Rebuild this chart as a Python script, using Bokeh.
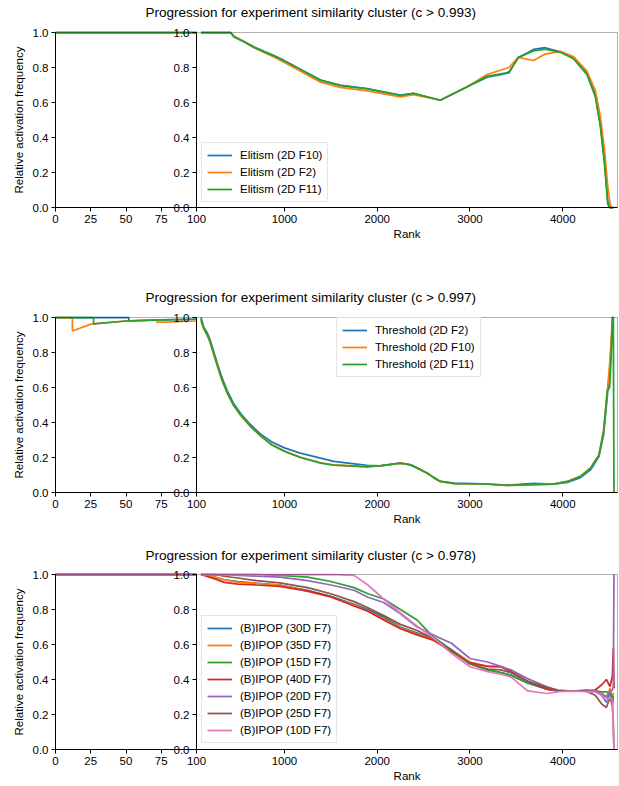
from bokeh.plotting import figure
from bokeh.models import (Range1d, LinearAxis, FixedTicker, PrintfTickFormatter, Legend, LegendItem,
                          BoxAnnotation, Label)
from bokeh.layouts import column
from bokeh.embed import file_html
from bokeh.resources import INLINE

# ---------------- data ----------------
TITLES = [
    "Progression for experiment similarity cluster (c > 0.993)",
    "Progression for experiment similarity cluster (c > 0.997)",
    "Progression for experiment similarity cluster (c > 0.978)",
]
Y_LABEL = "Relative activation frequency"
X_LABEL = "Rank"
Y_TICKS = [0.0, 0.2, 0.4, 0.6, 0.8, 1.0]
LEFT_X_TICKS = [0, 25, 50, 75, 100]
RIGHT_X_TICKS = [1000, 2000, 3000, 4000]

# Row 1: Elitism
R1_LABELS = ["Elitism (2D F10)", "Elitism (2D F2)", "Elitism (2D F11)"]
R1_LEFT_X = [0, 100]
R1_LEFT_Y = [1.0, 1.0]
R1_X = [100, 420, 455, 560, 670, 780, 880, 990, 1170, 1390, 1600, 1890, 2250, 2390, 2680, 2970, 3185,
        3360, 3420, 3520, 3685, 3810, 3975, 4115, 4260, 4350, 4405, 4450, 4485, 4505, 4520, 4545]
R1_F10 = [1.0, 1.0, 0.977, 0.95, 0.918, 0.892, 0.87, 0.842, 0.79, 0.728, 0.70, 0.68, 0.642, 0.652, 0.613, 0.69, 0.745,
          0.762, 0.775, 0.855, 0.903, 0.913, 0.89, 0.856, 0.767, 0.645, 0.474, 0.264, 0.034, 0.0, 0.0, 0.0]
R1_F2 = [1.0, 1.0, 0.98, 0.948, 0.915, 0.886, 0.862, 0.832, 0.78, 0.716, 0.686, 0.666, 0.632, 0.645, 0.613, 0.69, 0.76,
         0.79, 0.80, 0.858, 0.84, 0.877, 0.892, 0.862, 0.78, 0.67, 0.52, 0.33, 0.12, 0.04, 0.0, 0.0]
R1_F11 = [1.0, 1.0, 0.975, 0.948, 0.915, 0.89, 0.868, 0.84, 0.79, 0.726, 0.697, 0.678, 0.64, 0.652, 0.613, 0.69, 0.75,
          0.766, 0.768, 0.858, 0.895, 0.905, 0.887, 0.85, 0.76, 0.635, 0.465, 0.25, 0.02, 0.0, 0.0, 0.0]

# Row 2: Threshold
R2_LABELS = ["Threshold (2D F2)", "Threshold (2D F10)", "Threshold (2D F11)"]
R2_LEFT_X_F2 = [0, 52, 52, 75, 100]
R2_LEFT_Y_F2 = [1.0, 1.0, 0.981, 0.987, 0.99]
R2_LEFT_X_F10 = [0, 12, 12, 25, 50, 72, 72, 100]
R2_LEFT_Y_F10 = [1.0, 1.0, 0.923, 0.962, 0.98, 0.986, 0.972, 0.98]
R2_LEFT_X_F11 = [0, 27, 27, 50, 75, 100]
R2_LEFT_Y_F11 = [1.0, 1.0, 0.963, 0.98, 0.987, 0.99]
R2_X = [100, 130, 170, 200, 240, 275, 320, 380, 450, 530, 630, 740, 860, 1000, 1170, 1390, 1530, 1890, 2040, 2250,
        2360, 2450, 2540, 2610, 2680, 2830, 3150, 3400, 3690, 3900, 4050, 4190, 4300, 4390, 4440, 4480, 4505,
        4520, 4535, 4545, 4552]
R2_F2 = [1.0, 0.945, 0.91, 0.87, 0.80, 0.74, 0.665, 0.585, 0.51, 0.45, 0.39, 0.335, 0.29, 0.255, 0.225, 0.196,
         0.178, 0.155, 0.152, 0.168, 0.158, 0.135, 0.11, 0.085, 0.063, 0.053, 0.05, 0.042, 0.052, 0.048, 0.058,
         0.085, 0.13, 0.205, 0.33, 0.55, 0.70, 0.82, 0.95, 1.0, 1.0]
R2_F10 = [0.98, 0.935, 0.895, 0.855, 0.785, 0.725, 0.65, 0.57, 0.50, 0.44, 0.38, 0.325, 0.275, 0.237, 0.202, 0.17,
          0.158, 0.148, 0.153, 0.168, 0.158, 0.135, 0.11, 0.085, 0.063, 0.051, 0.049, 0.04, 0.045, 0.048, 0.063,
          0.092, 0.14, 0.215, 0.35, 0.58, 0.73, 0.85, 1.0, 1.0, 1.0]
R2_F11 = [0.99, 0.94, 0.90, 0.86, 0.79, 0.73, 0.655, 0.575, 0.50, 0.44, 0.38, 0.325, 0.273, 0.235, 0.2, 0.168,
          0.157, 0.147, 0.153, 0.168, 0.158, 0.135, 0.11, 0.085, 0.063, 0.051, 0.049, 0.04, 0.045, 0.048, 0.063,
          0.092, 0.14, 0.215, 0.35, 0.58, 0.60, 0.75, 1.0, 1.0, 0.0]

# Row 3: (B)IPOP
R3_LABELS = ["(B)IPOP (30D F7)", "(B)IPOP (35D F7)", "(B)IPOP (15D F7)", "(B)IPOP (40D F7)",
             "(B)IPOP (20D F7)", "(B)IPOP (25D F7)", "(B)IPOP (10D F7)"]
R3_LEFT_X = [0, 100]
R3_LEFT_Y = [1.0, 1.0]
R3_X = [100, 250, 350, 500, 700, 950, 1250, 1500, 1750, 1900, 2070, 2250, 2430, 2600, 2800, 3000,
        3190, 3330, 3440, 3620, 3830, 3950, 4100, 4250, 4350, 4420, 4470, 4510, 4535, 4545, 4552]
R3_30D = [1.0, 0.985, 0.97, 0.96, 0.95, 0.94, 0.91, 0.875, 0.83, 0.80, 0.755, 0.70, 0.665, 0.632, 0.565, 0.49,
          0.455, 0.44, 0.425, 0.38, 0.345, 0.335, 0.333, 0.333, 0.33, 0.31, 0.27, 0.33, 0.25, 0.30, 0.30]
R3_35D = [1.0, 0.985, 0.97, 0.955, 0.95, 0.94, 0.905, 0.87, 0.825, 0.79, 0.745, 0.695, 0.66, 0.63, 0.57, 0.50,
          0.475, 0.47, 0.45, 0.39, 0.345, 0.335, 0.333, 0.333, 0.335, 0.32, 0.30, 0.35, 0.30, 0.32, 0.32]
R3_15D = [1.0, 1.0, 1.0, 1.0, 1.0, 0.995, 0.985, 0.96, 0.925, 0.89, 0.86, 0.80, 0.74, 0.645, 0.57, 0.49,
          0.455, 0.44, 0.425, 0.38, 0.345, 0.335, 0.333, 0.34, 0.335, 0.33, 0.33, 0.32, 0.30, 0.30, 0.30]
R3_40D = [1.0, 0.975, 0.955, 0.945, 0.94, 0.932, 0.905, 0.873, 0.82, 0.79, 0.74, 0.69, 0.655, 0.625, 0.56, 0.495,
          0.475, 0.475, 0.445, 0.39, 0.345, 0.335, 0.333, 0.333, 0.34, 0.37, 0.40, 0.36, 0.42, 0.58, 0.35]
R3_20D = [1.0, 1.0, 1.0, 0.995, 0.99, 0.985, 0.965, 0.94, 0.91, 0.87, 0.84, 0.775, 0.70, 0.655, 0.607, 0.52,
          0.50, 0.475, 0.455, 0.405, 0.358, 0.335, 0.333, 0.333, 0.333, 0.32, 0.30, 0.33, 0.34, 0.36, 1.0]
R3_25D = [1.0, 1.0, 0.99, 0.98, 0.965, 0.952, 0.925, 0.89, 0.845, 0.81, 0.765, 0.715, 0.68, 0.635, 0.565, 0.49,
          0.46, 0.455, 0.44, 0.39, 0.355, 0.34, 0.333, 0.333, 0.31, 0.26, 0.24, 0.30, 0.25, 0.15, 0.0]
R3_10D = [1.0, 1.0, 1.0, 1.0, 1.0, 1.0, 1.0, 1.0, 0.995, 0.94, 0.86, 0.78, 0.705, 0.64, 0.55, 0.473,
          0.445, 0.43, 0.415, 0.335, 0.32, 0.33, 0.333, 0.33, 0.33, 0.31, 0.28, 0.30, 0.28, 0.10, 0.0]

COLORS = ["#1f77b4", "#ff7f0e", "#2ca02c", "#d62728", "#9467bd", "#8c564b", "#e377c2"]

# ---------------- layout constants (pixels) ----------------
FONT = "Liberation Sans"
TICK_FS = "11.5px"
W = 619
PANEL_L = 55          # left edge of the 0..100 panel
LEFT_W = 141          # width of the 0..100 panel
RIGHT_W = 421         # width of the rank panel
PANEL_H = 175
LEFT_MAX = 100
RIGHT_LO, RIGHT_HI = 52, 4590
LW = 1.75


def style_axis(ax):
    ax.major_label_text_font = FONT
    ax.major_label_text_font_size = TICK_FS
    ax.major_label_text_color = "black"
    ax.axis_line_color = "black"
    ax.major_tick_line_color = "black"
    ax.major_tick_out = 4
    ax.major_tick_in = 0
    ax.minor_tick_out = 0
    ax.minor_tick_in = 0
    ax.major_label_standoff = 3


def txt(**kw):
    return Label(text_font=FONT, text_color="black", **kw)


def make_row(title, left_series, right_series, labels, legend_loc, height, top, title_off):
    below = height - top - PANEL_H
    lscale = LEFT_MAX / LEFT_W
    rscale = (RIGHT_HI - RIGHT_LO) / RIGHT_W
    x_left = Range1d(-PANEL_L * lscale, (W - PANEL_L) * lscale)
    right_box_left = RIGHT_LO - LEFT_W * rscale
    x_right = Range1d(RIGHT_LO - (PANEL_L + LEFT_W) * rscale,
                      RIGHT_HI + (W - PANEL_L - LEFT_W - RIGHT_W) * rscale)
    y_rng = Range1d(-below / PANEL_H, 1 + top / PANEL_H)

    p = figure(width=W, height=height, output_backend="svg", toolbar_location=None,
               x_range=x_left, y_range=y_rng, x_axis_location=None, y_axis_location=None,
               min_border=0)
    p.extra_x_ranges = {"right": x_right}
    p.grid.visible = False
    p.outline_line_color = None
    p.background_fill_color = "white"
    p.border_fill_color = "white"

    # axes (all pinned to data locations)
    yax = LinearAxis(ticker=FixedTicker(ticks=Y_TICKS), formatter=PrintfTickFormatter(format="%.1f"),
                     fixed_location=0.0, bounds=(0, 1))
    yax2 = LinearAxis(ticker=FixedTicker(ticks=Y_TICKS), formatter=PrintfTickFormatter(format="%.1f"),
                      fixed_location=LEFT_MAX, bounds=(0, 1))
    xax = LinearAxis(ticker=FixedTicker(ticks=LEFT_X_TICKS), bounds=(0, LEFT_MAX), fixed_location=0.0)
    xax2 = LinearAxis(x_range_name="right", ticker=FixedTicker(ticks=RIGHT_X_TICKS),
                      bounds=(RIGHT_LO, RIGHT_HI), fixed_location=0.0)
    for ax, side in ((yax, "left"), (yax2, "left"), (xax, "below"), (xax2, "below")):
        style_axis(ax)
        p.add_layout(ax, side)

    # texts
    p.add_layout(txt(x=0, y=1, x_offset=90, y_offset=title_off, text=title, text_align="left",
                     text_baseline="middle", text_font_size="13.5px"))
    p.add_layout(txt(x=0, y=0.5, x_offset=-37, text=Y_LABEL, angle=90, angle_units="deg",
                     text_align="center", text_baseline="middle", text_font_size=TICK_FS))
    p.add_layout(txt(x=(RIGHT_LO + RIGHT_HI) / 2, y=0, y_offset=-26, x_range_name="right", text=X_LABEL,
                     text_align="center", text_baseline="middle", text_font_size=TICK_FS))

    # panel box (spines)
    p.add_layout(BoxAnnotation(x_range_name="right", left=right_box_left, right=RIGHT_HI, bottom=0, top=1,
                               fill_color=None, line_color="black", line_width=1))

    for (xs, ys), c in zip(left_series, COLORS):
        p.line(xs, ys, line_color=c, line_width=LW)
    items = []
    for (xs, ys), c, lab in zip(right_series, COLORS, labels):
        r = p.line(xs, ys, line_color=c, line_width=LW, x_range_name="right")
        items.append(LegendItem(label=lab, renderers=[r]))

    leg = Legend(items=items, location=(PANEL_L + legend_loc[0], below + legend_loc[1]), margin=0, padding=5,
                 spacing=3, glyph_width=25, glyph_height=14, label_height=14, label_standoff=8,
                 label_text_font=FONT, label_text_font_size=TICK_FS, label_text_color="black",
                 border_line_color="#cccccc", border_line_width=1,
                 background_fill_color="white", background_fill_alpha=0.8)
    p.add_layout(leg)
    return p


p1 = make_row(TITLES[0],
              [(R1_LEFT_X, R1_LEFT_Y)] * 3,
              [(R1_X, R1_F10), (R1_X, R1_F2), (R1_X, R1_F11)],
              R1_LABELS, (146, 5), 252, 32, 20)
p2 = make_row(TITLES[1],
              [(R2_LEFT_X_F2, R2_LEFT_Y_F2), (R2_LEFT_X_F10, R2_LEFT_Y_F10), (R2_LEFT_X_F11, R2_LEFT_Y_F11)],
              [(R2_X, R2_F2), (R2_X, R2_F10), (R2_X, R2_F11)],
              R2_LABELS, (281, 115), 285, 65, 20)
p3 = make_row(TITLES[2],
              [(R3_LEFT_X, R3_LEFT_Y)] * 7,
              [(R3_X, R3_30D), (R3_X, R3_35D), (R3_X, R3_15D), (R3_X, R3_40D),
               (R3_X, R3_20D), (R3_X, R3_25D), (R3_X, R3_10D)],
              R3_LABELS, (146, 6), 249, 37, 19)

layout = column(p1, p2, p3, spacing=0)
open("out.html", "w").write(file_html(layout, INLINE))
